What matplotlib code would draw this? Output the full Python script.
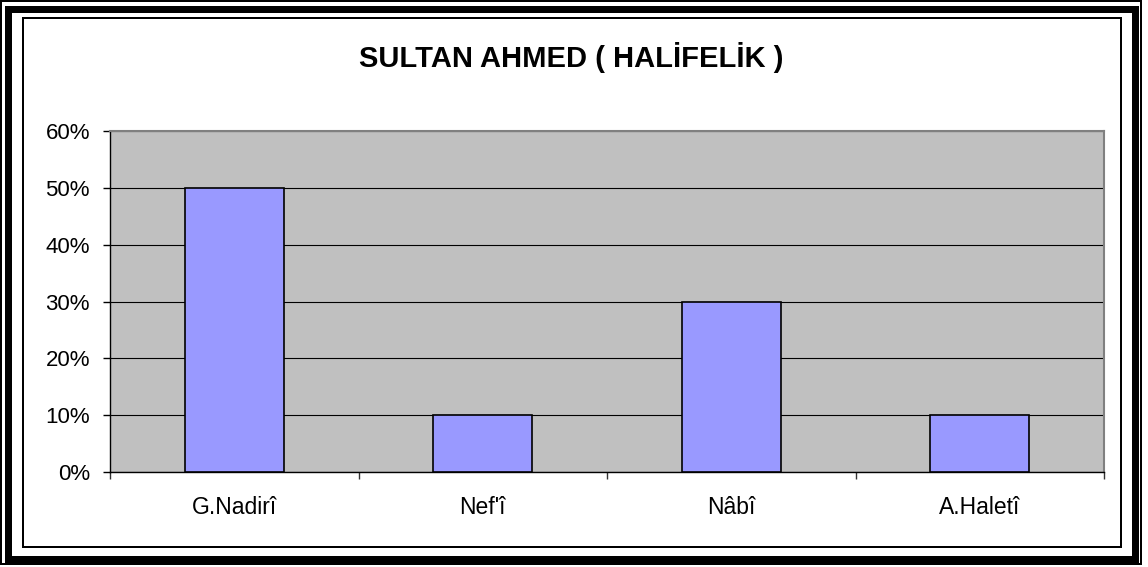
import matplotlib
matplotlib.use("Agg")
import matplotlib.pyplot as plt
from matplotlib.patches import Rectangle
import numpy as np

categories = ["G.Nadirî", "Nef'î", "Nâbî", "A.Haletî"]
values = [50, 10, 30, 10]
yticks = [0, 10, 20, 30, 40, 50, 60]
ytick_labels = ["0%", "10%", "20%", "30%", "40%", "50%", "60%"]
title = "SULTAN AHMED ( HALİFELİK )"

plt.rcParams['font.family'] = ['Liberation Sans', 'DejaVu Sans']

W, H = 1148, 567
fig = plt.figure(figsize=(W / 100, H / 100), dpi=100)
fig.patch.set_facecolor("white")

def px_rect(x0, y0, x1, y1, lw_px):
    r = Rectangle((x0 / W, 1 - y1 / H), (x1 - x0) / W, (y1 - y0) / H,
                  transform=fig.transFigure, fill=False, edgecolor="black",
                  linewidth=lw_px * 72 / 100, joinstyle="miter")
    fig.add_artist(r)

# decorative frames
px_rect(1, 1, 1141, 564, 2)
px_rect(7.5, 8.5, 1135, 558.5, 7)
px_rect(23, 18, 1121, 547, 2)

left, right, top, bottom = 110, 1104, 131, 472
ax = fig.add_axes([left / W, 1 - bottom / H, (right - left) / W, (bottom - top) / H])
ax.set_facecolor("#C0C0C0")

x = np.arange(len(categories))
ax.bar(x, values, width=0.4, color="#9999FF", edgecolor="black", linewidth=1.2, zorder=3)

ax.set_xlim(-0.5, len(categories) - 0.5)
ax.set_ylim(0, 60)
ax.set_yticks(yticks)
ax.set_yticklabels(ytick_labels, fontsize=16)
ax.set_xticks(x)
ax.set_xticklabels(categories, fontsize=16.5)
ax.set_xticks(np.arange(len(categories) + 1) - 0.5, minor=True)
ax.tick_params(axis="x", which="major", length=0, pad=17)
ax.tick_params(axis="x", which="minor", length=5, width=1, color="#333333", direction="out")
ax.tick_params(axis="y", which="major", length=5, width=1, color="black", direction="out", pad=9.4)

ax.yaxis.grid(True, color="black", linewidth=0.8, zorder=1)
ax.set_axisbelow(True)

for s in ["top", "right"]:
    ax.spines[s].set_color("#808080")
    ax.spines[s].set_linewidth(1.5)
for s in ["left", "bottom"]:
    ax.spines[s].set_color("black")
    ax.spines[s].set_linewidth(1)

fig.text(571 / W, 1 - 67 / H, title, ha="center", va="baseline",
         fontsize=21, fontweight="bold")

fig.savefig("out.png", dpi=100)
